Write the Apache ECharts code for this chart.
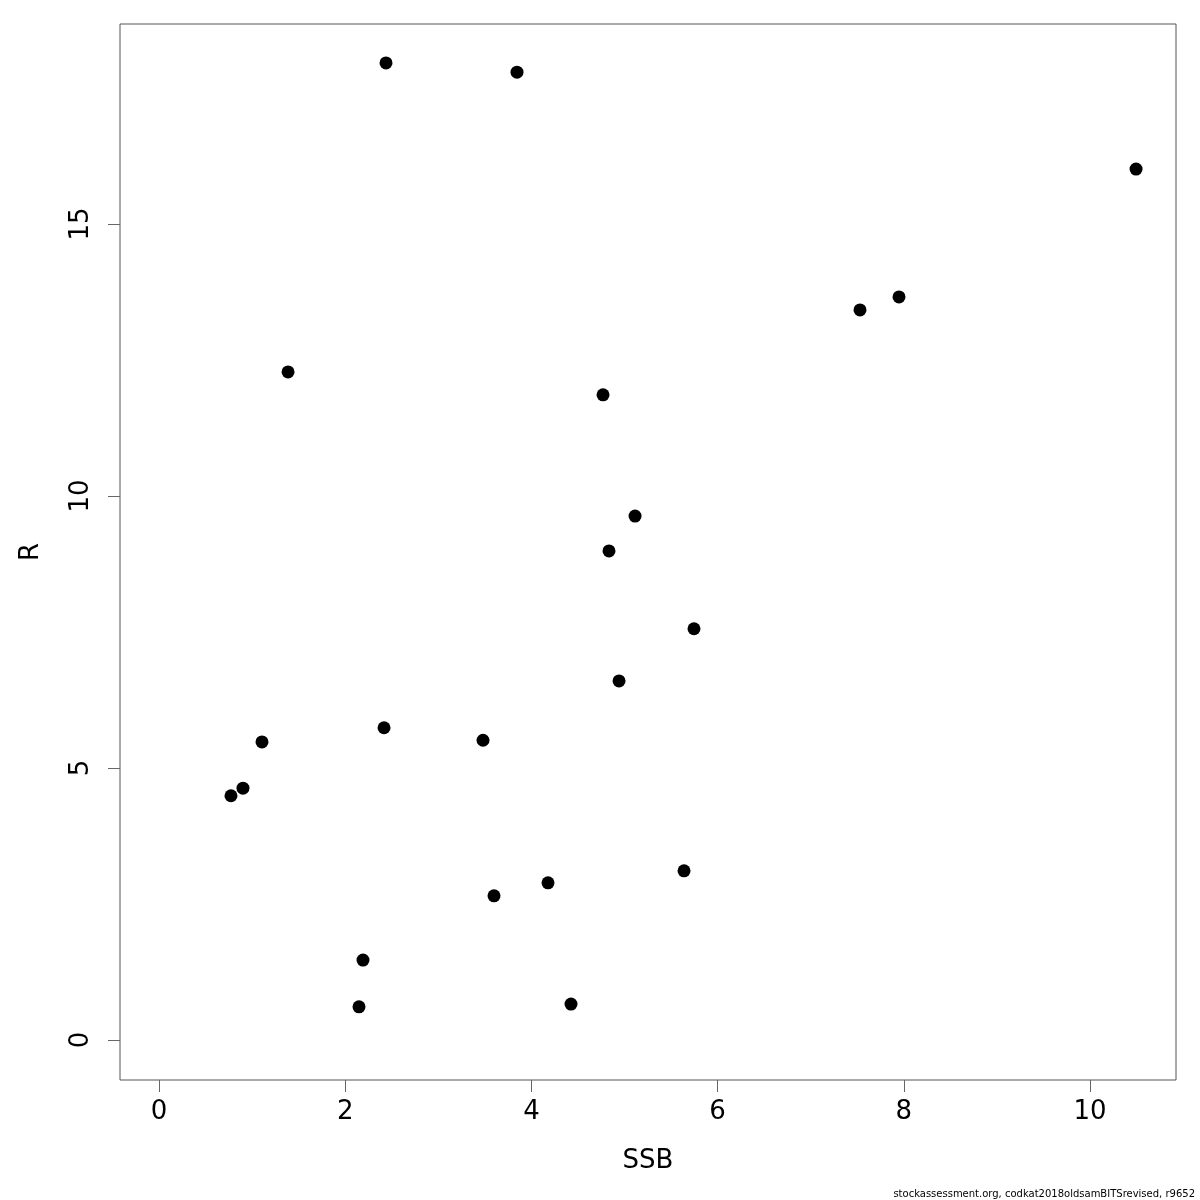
<!DOCTYPE html>
<html>
<head>
<meta charset="utf-8">
<script src="https://cdn.jsdelivr.net/npm/echarts@6/dist/echarts.min.js"></script>
<style>
html,body{margin:0;padding:0;background:#fff;}
#chart{width:1200px;height:1200px;}
</style>
</head>
<body>
<div id="chart"></div>
<script>
const ssb = [2.438, 3.845, 10.494, 7.529, 7.948, 1.386, 4.769, 5.113, 4.833, 5.746, 4.941, 2.417, 3.480, 1.106, 0.902, 0.773, 5.639, 4.178, 3.598, 2.191, 2.148, 4.425];
const rec = [17.96, 17.79, 16.01, 13.42, 13.66, 12.28, 11.86, 9.63, 8.99, 7.56, 6.60, 5.74, 5.51, 5.48, 4.63, 4.49, 3.11, 2.89, 2.65, 1.47, 0.61, 0.66];
const xTicks = [0, 2, 4, 6, 8, 10];
const yTicks = [0, 5, 10, 15];

const points = ssb.map((x, i) => [x, rec[i]]);
const chart = echarts.init(document.getElementById('chart'), null, {renderer: 'canvas'});
const font = 'DejaVu Sans';
chart.setOption({
  animation: false,
  backgroundColor: '#ffffff',
  grid: {left: 120, top: 24, width: 1056, height: 1056, show: true, borderColor: '#555', borderWidth: 1, backgroundColor: 'transparent'},
  xAxis: {
    type: 'value', min: -0.419, max: 10.923,
    name: 'SSB', nameLocation: 'middle', nameGap: 68,
    nameTextStyle: {fontFamily: font, fontSize: 26, color: '#000'},
    splitLine: {show: false},
    axisLine: {show: false, onZero: false},
    axisTick: {show: true, length: 12, customValues: xTicks, lineStyle: {color: '#666'}},
    axisLabel: {customValues: xTicks, margin: 19, fontFamily: font, fontSize: 26, color: '#000'}
  },
  yAxis: {
    type: 'value', min: -0.735, max: 18.676,
    name: 'R', nameLocation: 'middle', nameGap: 76,
    nameTextStyle: {fontFamily: font, fontSize: 26, color: '#000'},
    splitLine: {show: false},
    axisLine: {show: false, onZero: false},
    axisTick: {show: true, length: 12, customValues: yTicks, lineStyle: {color: '#666'}},
    axisLabel: {customValues: yTicks, rotate: 90, margin: 26, fontFamily: font, fontSize: 26, color: '#000'}
  },
  series: [{
    type: 'scatter', data: points, symbol: 'circle', symbolSize: 13,
    itemStyle: {color: '#000', opacity: 1}
  }],
  graphic: [{
    type: 'text', right: 5, bottom: 1,
    style: {text: 'stockassessment.org, codkat2018oldsamBITSrevised, r9652', font: '10px "DejaVu Sans"', fill: '#000'}
  }]
});
</script>
</body>
</html>
